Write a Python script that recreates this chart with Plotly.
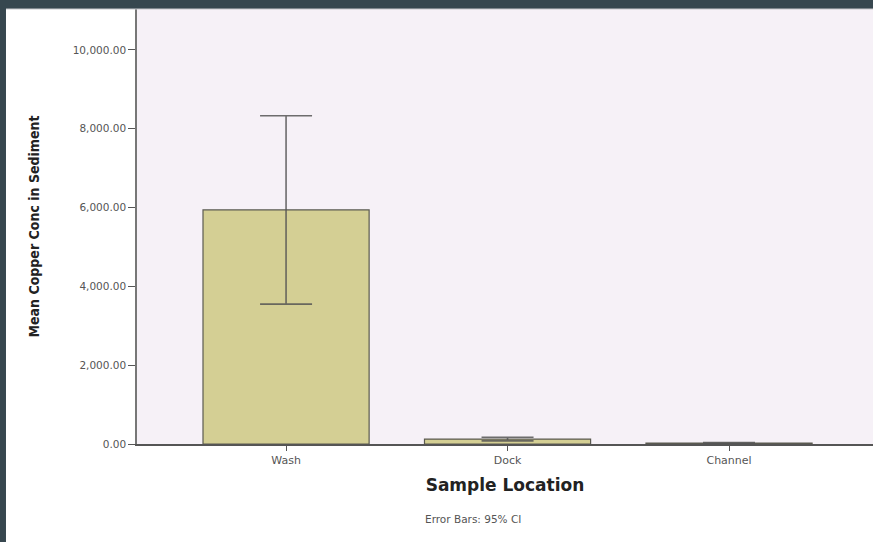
import plotly.graph_objects as go

categories = ["Wash", "Dock", "Channel"]
mean_copper = [5940, 125, 25]
ci_half = [2390, 45, 12]
y_tickvals = [0, 2000, 4000, 6000, 8000, 10000]
y_ticktext = ["0.00", "2,000.00", "4,000.00", "6,000.00", "8,000.00", "10,000.00"]

wide = "DejaVu Sans, Verdana, sans-serif"

fig = go.Figure()
fig.add_trace(go.Bar(
    x=categories, y=mean_copper, width=0.75,
    marker=dict(color="#d4cf94", line=dict(color="#5a5a50", width=1.2)),
    error_y=dict(type="data", array=ci_half, visible=True,
                 color="rgba(85,85,85,0.85)", thickness=1.6, width=26),
))

fig.update_layout(
    width=873, height=542,
    margin=dict(l=137, r=0, t=9, b=98),
    paper_bgcolor="white", plot_bgcolor="#f6f1f7",
    showlegend=False, bargap=0.25,
    font=dict(family=wide, color="#444"),
    xaxis=dict(range=[-0.673, 2.65], showline=True, linecolor="#555", linewidth=1.5,
               ticks="outside", ticklen=5, tickcolor="#555",
               tickfont=dict(size=11, color="#555", family=wide),
               showgrid=False, zeroline=False,
               title=dict(text="<b>Sample Location</b>", font=dict(size=17, color="#222", family=wide),
                          standoff=13)),
    yaxis=dict(range=[0, 11040], tickvals=y_tickvals, ticktext=y_ticktext, showline=True,
               linecolor="#777", linewidth=1.5, ticks="outside", ticklen=7, tickcolor="#555",
               tickfont=dict(size=10.5, color="#555", family=wide), showgrid=False, zeroline=False,
               title=dict(text="<b>Mean Copper Conc in Sediment</b>",
                          font=dict(size=14, color="#222",
                                    family="DejaVu Sans Condensed, Liberation Sans Narrow, Arial Narrow, sans-serif"),
                          standoff=30)),
    shapes=[
        dict(type="rect", xref="paper", yref="paper", x0=-0.3, x1=1.01, y0=1.0, y1=1.05,
             fillcolor="#37474f", line=dict(width=0), layer="above"),
        dict(type="line", xref="paper", yref="paper", x0=-0.178, x1=1.01, y0=1.0, y1=1.0,
             line=dict(color="#c8c8cc", width=1), layer="above"),
        dict(type="rect", xref="paper", yref="paper", x0=-0.2, x1=-0.178, y0=-0.3, y1=1.05,
             fillcolor="#37474f", line=dict(width=0), layer="above"),
    ],
    annotations=[dict(text="Error Bars: 95% CI", xref="paper", yref="paper",
                      x=(473 - 137) / 736, y=-(519 - 444) / 435, xanchor="center", yanchor="middle",
                      showarrow=False, font=dict(size=10.5, color="#555", family=wide))],
)
fig.write_html("out.html", config={"displayModeBar": False},
               post_script="document.body.style.margin='0';")
